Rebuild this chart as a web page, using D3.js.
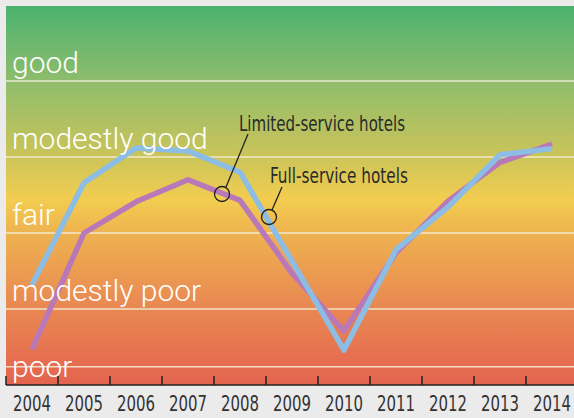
<!DOCTYPE html>
<html>
<head>
<meta charset="utf-8">
<script src="https://cdnjs.cloudflare.com/ajax/libs/d3/7.8.5/d3.min.js"></script>
<style>
  html, body { margin: 0; padding: 0; background: #ebebeb; }
  svg { display: block; }
</style>
</head>
<body>
<script>
var width = 574;
var height = 418;

// data
var years = [2004, 2005, 2006, 2007, 2008, 2009, 2010, 2011, 2012, 2013, 2014];
var limitedService = [1.32, 2.66, 3.12, 3.08, 2.80, 1.63, 0.46, 1.78, 2.34, 3.03, 3.11];
var fullService = [0.47, 2.00, 2.41, 2.70, 2.43, 1.47, 0.71, 1.74, 2.42, 2.93, 3.17];
var levelLabels = ["poor", "modestly poor", "fair", "modestly good", "good"];
var gridValues = [0.24, 1, 2, 3, 4];

var svg = d3.select("body").append("svg")
  .attr("width", width)
  .attr("height", height);

var x = d3.scaleBand().domain(years).range([6, 578]).padding(0);
var y = d3.scaleLinear().domain([0, 5]).range([385, 5]);

// background gradient
var defs = svg.append("defs");
var grad = defs.append("linearGradient")
  .attr("id", "bg")
  .attr("x1", 0).attr("y1", 0).attr("x2", 0).attr("y2", 1);
var stops = [
  [0, "#4ab36f"],
  [0.2, "#8fbd6c"],
  [0.39, "#c9c45a"],
  [0.51, "#f2cd50"],
  [0.6, "#eeb24f"],
  [0.78, "#e98b52"],
  [1, "#e4634f"]
];
stops.forEach(function(s) {
  grad.append("stop").attr("offset", s[0]).attr("stop-color", s[1]);
});

svg.append("rect")
  .attr("x", 6)
  .attr("y", y(5) + 1)
  .attr("width", width - 6)
  .attr("height", y(0) - y(5) - 1)
  .style("fill", "url(#bg)");

// gridlines
svg.selectAll(".grid")
  .data(gridValues)
  .enter().append("line")
  .attr("x1", 6)
  .attr("x2", width)
  .attr("y1", function(d) { return y(d); })
  .attr("y2", function(d) { return y(d); })
  .attr("stroke", "#f6f0e0")
  .attr("stroke-width", 1.5)
  .style("opacity", 0.85);

// series lines
var line = d3.line()
  .x(function(d, i) { return x(years[i]) + x.bandwidth() / 2; })
  .y(function(d) { return y(d); });

svg.append("path")
  .datum(fullService)
  .attr("d", line)
  .attr("fill", "none")
  .attr("stroke", "#b979b9")
  .attr("stroke-width", 5.5)
  .attr("stroke-linejoin", "round");

svg.append("path")
  .datum(limitedService)
  .attr("d", line)
  .attr("fill", "none")
  .attr("stroke", "#8cbde5")
  .attr("stroke-width", 5.5)
  .attr("stroke-linejoin", "round");

// level labels
svg.selectAll(".level")
  .data(levelLabels)
  .enter().append("text")
  .attr("x", 12)
  .attr("y", function(d, i) { return y(i + 0.11); })
  .style("font-family", "Roboto, 'Open Sans', sans-serif")
  .style("font-weight", 300)
  .style("font-size", "30px")
  .style("fill", "#ffffff")
  .text(function(d) { return d; });

// x axis
svg.append("line")
  .attr("x1", 6).attr("x2", width)
  .attr("y1", y(0)).attr("y2", y(0))
  .attr("stroke", "#222")
  .attr("stroke-width", 1.5);

svg.selectAll(".tick")
  .data(years)
  .enter().append("line")
  .attr("x1", function(d) { return x(d); })
  .attr("x2", function(d) { return x(d); })
  .attr("y1", y(0))
  .attr("y2", y(0) - 9)
  .attr("stroke", "#222")
  .attr("stroke-width", 1.5);

var condensed = "'Liberation Sans Narrow', 'DejaVu Sans Condensed', sans-serif";

svg.selectAll(".year")
  .data(years)
  .enter().append("text")
  .attr("x", function(d) { return x(d) + x.bandwidth() / 2 - 19; })
  .attr("y", 411)
  .attr("textLength", 38)
  .attr("lengthAdjust", "spacingAndGlyphs")
  .style("font-family", condensed)
  .style("font-size", "22px")
  .style("fill", "#333")
  .text(function(d) { return d; });

// annotations
function annotate(cx, cy, lx1, ly1, lx2, ly2, tx, ty, tw, label) {
  svg.append("circle")
    .attr("cx", cx).attr("cy", cy).attr("r", 7.5)
    .attr("fill", "none").attr("stroke", "#222").attr("stroke-width", 1.3);
  svg.append("line")
    .attr("x1", lx1).attr("y1", ly1).attr("x2", lx2).attr("y2", ly2)
    .attr("stroke", "#222").attr("stroke-width", 1.3);
  svg.append("text")
    .attr("x", tx).attr("y", ty)
    .attr("textLength", tw)
    .attr("lengthAdjust", "spacingAndGlyphs")
    .style("font-family", condensed)
    .style("font-size", "21px")
    .style("fill", "#2a2a2a")
    .text(label);
}

annotate(222, 194, 226, 187, 248, 134, 239, 131, 166, "Limited-service hotels");
annotate(269, 217, 272, 210, 282, 187, 270, 183, 138, "Full-service hotels");
</script>
</body>
</html>
